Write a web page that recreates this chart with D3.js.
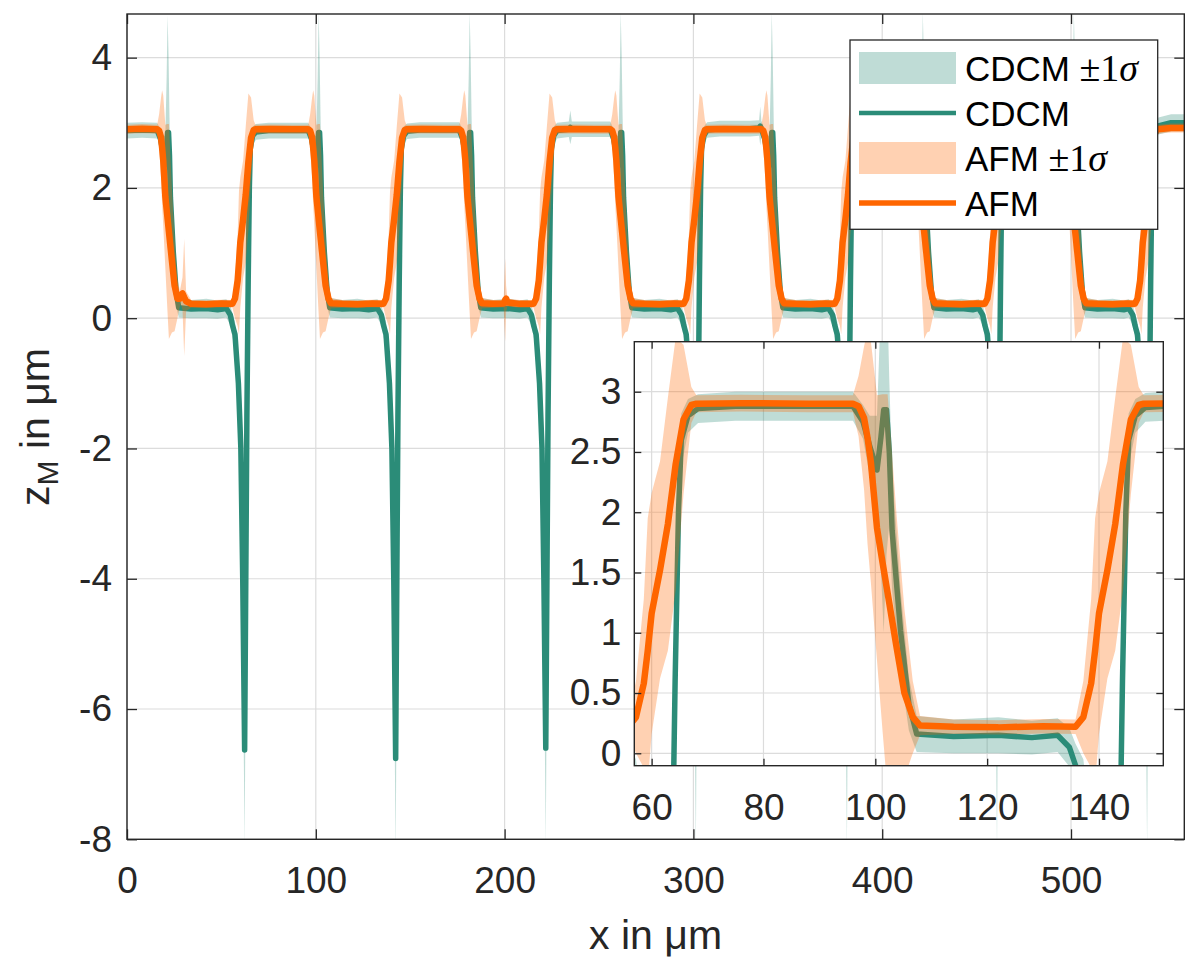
<!DOCTYPE html>
<html>
<head>
<meta charset="utf-8">
<script src="https://cdn.jsdelivr.net/npm/d3@7"></script>
<style>
  body { margin: 0; background: #fff; }
  text { font-family: "Liberation Sans", Arial, sans-serif; }
</style>
</head>
<body>
<script>
// CDCM profile: x in um, mean height, 1 sigma
const xCdcm = [
  0, 8,
  16, 17.8, 19, 20.3, 21, 21.5, 22, 22.5, 23, 24.5, 26, 27.4, 34, 42, 48,
  52.6, 54.7, 55.8, 57.2, 59, 60.3, 61.3, 62.3, 62.8, 63.5, 64.2, 64.8, 65.3, 66.5, 68.3, 75, 85,
  96, 97.8, 99, 100.3, 101, 101.5, 102, 102.5, 103, 104.5, 106, 107.4, 114, 122, 128,
  132.6, 134.7, 135.8, 137.2, 139, 140.3, 141.3, 142.3, 142.8, 143.5, 144.2, 144.8, 145.3, 146.5, 148.3, 155, 165,
  176, 177.8, 179, 180.3, 181, 181.5, 182, 182.5, 183, 184.5, 186, 187.4, 194, 202, 208,
  212.1, 214.2, 215.3, 216.7, 218.5, 219.8, 220.8, 221.8, 222.3, 223, 223.7, 224.3, 224.8, 226, 227.8, 234, 234.8, 235.6, 244.5,
  256, 257.8, 259, 260.3, 261, 261.5, 262, 262.5, 263, 264.5, 266, 267.4, 274, 282, 288,
  291.6, 293.7, 294.8, 296.2, 298, 299.3, 300.3, 301.3, 301.8, 302.5, 303.2, 303.8, 304.3, 305.5, 307.3, 314, 330, 334.8, 335.4,
  336, 337.8, 339, 340.3, 341, 341.5, 342, 342.5, 343, 344.5, 346, 347.4, 354, 362, 368,
  371.6, 373.7, 374.8, 376.2, 378, 379.3, 380.3, 381.3, 381.8, 382.5, 383.2, 383.8, 384.3, 385.5, 387.3, 394, 404,
  416, 417.8, 419, 420.3, 421, 421.5, 422, 422.5, 423, 424.5, 426, 427.4, 434, 442, 448,
  451.1, 453.2, 454.3, 455.7, 457.5, 458.8, 459.8, 460.8, 461.3, 462, 462.7, 463.3, 463.8, 465, 466.8, 473.5, 483.5,
  496, 497.8, 499, 500.3, 501, 501.5, 502, 502.5, 503, 504.5, 506, 507.4, 514, 522, 528,
  530.6, 532.7, 533.8, 535.2, 537, 538.3, 539.3, 540.3, 540.8, 541.5, 542.2, 542.8, 543.3, 544.5, 546.3, 553, 560
];
const zCdcm = [
  2.88, 2.89,
  2.88, 2.75, 2.55, 2.35, 2.62, 2.85, 2.85, 2.5, 1.85, 1.02, 0.41, 0.16, 0.14, 0.15, 0.13,
  0.15, 0.05, -0.1, -0.25, -1, -2, -4, -6.63, -4.5, -1.5, 0.6, 2, 2.6, 2.8, 2.86, 2.88, 2.88,
  2.88, 2.75, 2.55, 2.35, 2.62, 2.85, 2.85, 2.5, 1.85, 1.02, 0.41, 0.16, 0.14, 0.15, 0.13,
  0.15, 0.05, -0.1, -0.25, -1, -2, -4, -6.76, -4.5, -1.5, 0.6, 2, 2.6, 2.8, 2.87, 2.89, 2.89,
  2.89, 2.75, 2.55, 2.35, 2.62, 2.85, 2.85, 2.5, 1.85, 1.02, 0.41, 0.16, 0.14, 0.15, 0.13,
  0.15, 0.05, -0.1, -0.25, -1, -2, -4, -6.6, -4.5, -1.5, 0.6, 2, 2.6, 2.8, 2.88, 2.9, 2.93, 2.9, 2.9,
  2.9, 2.75, 2.55, 2.35, 2.62, 2.85, 2.85, 2.5, 1.85, 1.02, 0.41, 0.16, 0.14, 0.15, 0.13,
  0.15, 0.05, -0.1, -0.25, -1, -2, -4, -6.65, -4.5, -1.5, 0.6, 2, 2.6, 2.8, 2.89, 2.91, 2.91, 2.92, 2.95,
  2.91, 2.75, 2.55, 2.35, 2.62, 2.85, 2.85, 2.5, 1.85, 1.02, 0.41, 0.16, 0.14, 0.15, 0.13,
  0.15, 0.05, -0.1, -0.25, -1, -2, -4, -6.65, -4.5, -1.5, 0.6, 2, 2.6, 2.8, 2.91, 2.93, 2.93,
  2.93, 2.75, 2.55, 2.35, 2.62, 2.85, 2.85, 2.5, 1.85, 1.02, 0.41, 0.16, 0.14, 0.15, 0.13,
  0.15, 0.05, -0.1, -0.25, -1, -2, -4, -6.65, -4.5, -1.5, 0.6, 2, 2.6, 2.8, 2.94, 2.96, 2.96,
  2.96, 2.75, 2.55, 2.35, 2.62, 2.85, 2.85, 2.5, 1.85, 1.02, 0.41, 0.16, 0.14, 0.15, 0.13,
  0.15, 0.05, -0.1, -0.25, -1, -2, -4, -6.65, -4.5, -1.5, 0.6, 2, 2.6, 2.82, 2.95, 3, 3
];
const sdCdcm = [
  0.12, 0.12,
  0.12, 0.14, 0.25, 0.45, 1.1, 1.8, 1.2, 0.6, 0.5, 0.35, 0.22, 0.15, 0.14, 0.15, 0.14,
  0.14, 0.16, 0.18, 0.2, 0.3, 0.5, 0.9, 1.5, 1.3, 0.7, 0.35, 0.3, 0.22, 0.14, 0.12, 0.12, 0.12,
  0.12, 0.14, 0.25, 0.45, 1.1, 1.85, 1.2, 0.6, 0.5, 0.35, 0.22, 0.15, 0.14, 0.15, 0.14,
  0.14, 0.16, 0.18, 0.2, 0.3, 0.5, 0.9, 1.5, 1.3, 0.7, 0.35, 0.3, 0.22, 0.14, 0.12, 0.12, 0.12,
  0.12, 0.14, 0.25, 0.45, 1.1, 1.85, 1.2, 0.6, 0.5, 0.35, 0.22, 0.15, 0.14, 0.15, 0.14,
  0.14, 0.16, 0.18, 0.2, 0.3, 0.5, 0.9, 1.5, 1.3, 0.7, 0.35, 0.3, 0.22, 0.14, 0.12, 0.12, 0.26, 0.12, 0.12,
  0.12, 0.14, 0.25, 0.45, 1.1, 1.85, 1.2, 0.6, 0.5, 0.35, 0.22, 0.15, 0.14, 0.15, 0.14,
  0.14, 0.16, 0.18, 0.2, 0.3, 0.5, 0.9, 1.5, 1.3, 0.7, 0.35, 0.3, 0.22, 0.14, 0.12, 0.12, 0.12, 0.12, 0.3,
  0.12, 0.14, 0.25, 0.45, 1.1, 1.85, 1.2, 0.6, 0.5, 0.35, 0.22, 0.15, 0.14, 0.15, 0.14,
  0.14, 0.16, 0.18, 0.2, 0.3, 0.5, 0.9, 1.5, 1.3, 0.7, 0.35, 0.3, 0.22, 0.14, 0.12, 0.12, 0.12,
  0.12, 0.14, 0.25, 0.45, 1.1, 1.85, 1.2, 0.6, 0.5, 0.35, 0.22, 0.15, 0.14, 0.15, 0.14,
  0.14, 0.16, 0.18, 0.2, 0.3, 0.5, 0.9, 1.5, 1.3, 0.7, 0.35, 0.3, 0.22, 0.14, 0.12, 0.12, 0.12,
  0.12, 0.14, 0.25, 0.45, 1.1, 1.85, 1.2, 0.6, 0.5, 0.35, 0.22, 0.15, 0.14, 0.15, 0.14,
  0.14, 0.16, 0.18, 0.2, 0.3, 0.5, 0.9, 1.5, 1.3, 0.7, 0.35, 0.3, 0.22, 0.14, 0.13, 0.13, 0.13
];

// AFM profile: x in um, mean height, 1 sigma
const xAfm = [
  0, 8,
  16, 17, 18, 18.6, 19.2, 20.3, 21.3, 22.2, 23.8, 25.2, 26.7, 28,
  28.6, 29.4, 30.3, 31.3, 34, 42, 50,
  55.8, 57.2, 58.6, 59.3, 60, 61.5, 62.9, 64.3, 65.7, 67.1, 68, 76, 88,
  96, 97, 98, 98.6, 99.2, 100.3, 101.3, 102.2, 103.8, 105.2, 106.7, 108,
  114, 122, 130,
  135.8, 137.2, 138.6, 139.3, 140, 141.5, 142.9, 144.3, 145.7, 147.1, 148, 156, 168,
  176, 177, 178, 178.6, 179.2, 180.3, 181.3, 182.2, 183.8, 185.2, 186.7, 188,
  194, 199.5, 200.3, 200.8, 201.5, 208,
  215.3, 216.7, 218.1, 218.8, 219.5, 221, 222.4, 223.8, 225.2, 226.6, 227.5, 236, 248,
  256, 257, 258, 258.6, 259.2, 260.3, 261.3, 262.2, 263.8, 265.2, 266.7, 268,
  274, 282, 290,
  294.8, 296.2, 297.6, 298.3, 299, 300.5, 301.9, 303.3, 304.7, 306.1, 307, 316, 328,
  336, 337, 338, 338.6, 339.2, 340.3, 341.3, 342.2, 343.8, 345.2, 346.7, 348,
  354, 362, 370,
  374.8, 376.2, 377.6, 378.3, 379, 380.5, 381.9, 383.3, 384.7, 386.1, 387, 396, 408,
  416, 417, 418, 418.6, 419.2, 420.3, 421.3, 422.2, 423.8, 425.2, 426.7, 428,
  434, 442, 450,
  454.3, 455.7, 457.1, 457.8, 458.5, 460, 461.4, 462.8, 464.2, 465.6, 466.5, 476, 488,
  496, 497, 498, 498.6, 499.2, 500.3, 501.3, 502.2, 503.8, 505.2, 506.7, 508,
  514, 522, 530,
  533.8, 535.2, 536.6, 537.3, 538, 539.5, 540.9, 542.3, 543.7, 545.1, 546, 553, 560
];
const zAfm = [
  2.9, 2.91,
  2.9, 2.88, 2.78, 2.62, 2.42, 1.87, 1.58, 1.33, 0.88, 0.5, 0.3, 0.3,
  0.36, 0.38, 0.32, 0.26, 0.22, 0.215, 0.225,
  0.22, 0.3, 0.58, 0.85, 1.16, 1.52, 1.9, 2.4, 2.77, 2.89, 2.9, 2.905, 2.9,
  2.9, 2.88, 2.78, 2.62, 2.42, 1.87, 1.58, 1.33, 0.88, 0.5, 0.3, 0.23,
  0.22, 0.215, 0.225,
  0.22, 0.3, 0.58, 0.85, 1.16, 1.52, 1.9, 2.4, 2.77, 2.89, 2.9, 2.905, 2.9,
  2.9, 2.88, 2.78, 2.62, 2.42, 1.87, 1.58, 1.33, 0.88, 0.5, 0.3, 0.23,
  0.22, 0.225, 0.28, 0.3, 0.24, 0.22,
  0.22, 0.3, 0.58, 0.85, 1.16, 1.52, 1.9, 2.4, 2.77, 2.89, 2.9, 2.905, 2.9,
  2.9, 2.88, 2.78, 2.62, 2.42, 1.87, 1.58, 1.33, 0.88, 0.5, 0.3, 0.23,
  0.22, 0.215, 0.225,
  0.22, 0.3, 0.58, 0.85, 1.16, 1.52, 1.9, 2.4, 2.77, 2.89, 2.9, 2.905, 2.9,
  2.9, 2.88, 2.78, 2.62, 2.42, 1.87, 1.58, 1.33, 0.88, 0.5, 0.3, 0.23,
  0.22, 0.215, 0.225,
  0.22, 0.3, 0.58, 0.85, 1.16, 1.52, 1.9, 2.4, 2.77, 2.89, 2.9, 2.905, 2.9,
  2.9, 2.88, 2.78, 2.62, 2.42, 1.87, 1.58, 1.33, 0.88, 0.5, 0.3, 0.23,
  0.22, 0.215, 0.225,
  0.22, 0.3, 0.58, 0.85, 1.16, 1.52, 1.9, 2.4, 2.77, 2.89, 2.9, 2.91, 2.91,
  2.91, 2.88, 2.78, 2.62, 2.42, 1.87, 1.58, 1.33, 0.88, 0.5, 0.3, 0.23,
  0.22, 0.215, 0.225,
  0.22, 0.3, 0.58, 0.85, 1.16, 1.52, 1.9, 2.4, 2.77, 2.89, 2.9, 2.92, 2.92
];
const sdAfm = [
  0.07, 0.07,
  0.07, 0.25, 0.6, 0.88, 1, 1.1, 1.4, 1.65, 1.1, 0.7, 0.3, 0.12,
  0.15, 0.25, 0.9, 0.15, 0.06, 0.06, 0.06,
  0.06, 0.3, 0.7, 1.1, 1, 0.9, 1.05, 1.05, 0.62, 0.15, 0.07, 0.07, 0.07,
  0.07, 0.25, 0.6, 0.88, 1, 1.1, 1.4, 1.65, 1.1, 0.7, 0.3, 0.08,
  0.06, 0.06, 0.06,
  0.06, 0.3, 0.7, 1.1, 1, 0.9, 1.05, 1.05, 0.62, 0.15, 0.07, 0.07, 0.07,
  0.07, 0.25, 0.6, 0.88, 1, 1.1, 1.4, 1.65, 1.1, 0.7, 0.3, 0.08,
  0.06, 0.06, 0.64, 0.2, 0.06, 0.06,
  0.06, 0.3, 0.7, 1.1, 1, 0.9, 1.05, 1.05, 0.62, 0.15, 0.07, 0.07, 0.07,
  0.07, 0.25, 0.6, 0.88, 1, 1.1, 1.4, 1.65, 1.1, 0.7, 0.3, 0.08,
  0.06, 0.06, 0.06,
  0.06, 0.3, 0.7, 1.1, 1, 0.9, 1.05, 1.05, 0.62, 0.15, 0.07, 0.07, 0.07,
  0.07, 0.25, 0.6, 0.88, 1, 1.1, 1.4, 1.65, 1.1, 0.7, 0.3, 0.08,
  0.06, 0.06, 0.06,
  0.06, 0.3, 0.7, 1.1, 1, 0.9, 1.05, 1.05, 0.62, 0.15, 0.07, 0.07, 0.07,
  0.07, 0.25, 0.6, 0.88, 1, 1.1, 1.4, 1.65, 1.1, 0.7, 0.3, 0.08,
  0.06, 0.06, 0.06,
  0.06, 0.3, 0.7, 1.1, 1, 0.9, 1.05, 1.05, 0.62, 0.15, 0.07, 0.07, 0.07,
  0.07, 0.25, 0.6, 0.88, 1, 1.1, 1.4, 1.65, 1.1, 0.7, 0.3, 0.08,
  0.06, 0.06, 0.06,
  0.06, 0.3, 0.7, 1.1, 1, 0.9, 1.05, 1.05, 0.62, 0.15, 0.07, 0.07, 0.07
];

// Axis ticks and labels
const mainXTicks = [0, 100, 200, 300, 400, 500];
const mainYTicks = [-8, -6, -4, -2, 0, 2, 4];
const insetXTicks = [60, 80, 100, 120, 140];
const insetYTicks = [0, 0.5, 1, 1.5, 2, 2.5, 3];
const legendLabels = ["CDCM ±1σ", "CDCM", "AFM ±1σ", "AFM"];

if (xCdcm.length !== zCdcm.length || xCdcm.length !== sdCdcm.length ||
    xAfm.length !== zAfm.length || xAfm.length !== sdAfm.length) {
  throw new Error("length mismatch " + [xCdcm.length, zCdcm.length, sdCdcm.length, xAfm.length, zAfm.length, sdAfm.length]);
}

let cdcm = xCdcm.map((x, i) => ({ x: x, z: zCdcm[i], sd: sdCdcm[i] }));
let afm = xAfm.map((x, i) => ({ x: x, z: zAfm[i], sd: sdAfm[i] }));

let width = 1200;
let height = 966;
let teal = "rgb(43,140,120)";
let orange = "#ff6600";
let ink = "#262626";
let tealWidth = 5.5;
let orangeWidth = 6.5;

let svg = d3
  .select("body")
  .append("svg")
  .attr("width", width)
  .attr("height", height)
  .style("background", "#fff");

let defs = svg.append("defs");

// Draw one set of axes (used for main plot and for inset)
function drawPanel(opt) {
  let box = opt.box;
  let g = svg.append("g");

  let x = d3.scaleLinear().domain(opt.xDomain).range([box.left, box.right]);
  let y = d3.scaleLinear().domain(opt.yDomain).range([box.bottom, box.top]);

  g.append("rect")
    .attr("x", box.left)
    .attr("y", box.top)
    .attr("width", box.right - box.left)
    .attr("height", box.bottom - box.top)
    .attr("fill", "#fff");

  // grid
  g.append("g")
    .selectAll("line")
    .data(opt.xTicks)
    .join("line")
    .attr("x1", (d) => x(d))
    .attr("x2", (d) => x(d))
    .attr("y1", box.top)
    .attr("y2", box.bottom)
    .attr("stroke", "#dcdcdc")
    .attr("stroke-width", 1.2);
  g.append("g")
    .selectAll("line")
    .data(opt.yTicks)
    .join("line")
    .attr("x1", box.left)
    .attr("x2", box.right)
    .attr("y1", (d) => y(d))
    .attr("y2", (d) => y(d))
    .attr("stroke", "#dcdcdc")
    .attr("stroke-width", 1.2);

  defs.append("clipPath")
    .attr("id", opt.id)
    .append("rect")
    .attr("x", box.left)
    .attr("y", box.top)
    .attr("width", box.right - box.left)
    .attr("height", box.bottom - box.top);

  let plot = g.append("g").attr("clip-path", `url(#${opt.id})`);

  let area = d3.area()
    .x((d) => x(d.x))
    .y0((d) => y(d.z - d.sd))
    .y1((d) => y(d.z + d.sd));
  let line = d3.line()
    .x((d) => x(d.x))
    .y((d) => y(d.z));

  plot.append("path").datum(cdcm).attr("d", area)
    .attr("fill", teal).attr("fill-opacity", 0.3);
  plot.append("path").datum(cdcm).attr("d", line)
    .attr("fill", "none").attr("stroke", teal)
    .attr("stroke-width", tealWidth).attr("stroke-linejoin", "round");
  plot.append("path").datum(afm).attr("d", area)
    .attr("fill", orange).attr("fill-opacity", 0.3);
  plot.append("path").datum(afm).attr("d", line)
    .attr("fill", "none").attr("stroke", orange)
    .attr("stroke-width", orangeWidth).attr("stroke-linejoin", "round");

  // axes, ticks point inward on all four sides
  let fmt = (d) => String(d);
  let axes = [
    [d3.axisBottom(x).tickValues(opt.xTicks).tickFormat(fmt).tickPadding(opt.xPad), `translate(0,${box.bottom})`],
    [d3.axisTop(x).tickValues(opt.xTicks).tickFormat(""), `translate(0,${box.top})`],
    [d3.axisLeft(y).tickValues(opt.yTicks).tickFormat(fmt).tickPadding(opt.yPad), `translate(${box.left},0)`],
    [d3.axisRight(y).tickValues(opt.yTicks).tickFormat(""), `translate(${box.right},0)`],
  ];
  axes.forEach(([axis, tr]) => {
    let a = g.append("g")
      .attr("transform", tr)
      .call(axis.tickSizeInner(-opt.tickLen).tickSizeOuter(0));
    a.select(".domain").remove();
    a.selectAll("line").attr("stroke", ink).attr("stroke-width", 1.3);
    a.selectAll("text")
      .attr("fill", ink)
      .style("font-size", opt.fontSize + "px")
      .style("font-family", '"Liberation Sans", Arial, sans-serif');
  });

  g.append("rect")
    .attr("x", box.left)
    .attr("y", box.top)
    .attr("width", box.right - box.left)
    .attr("height", box.bottom - box.top)
    .attr("fill", "none")
    .attr("stroke", ink)
    .attr("stroke-width", 1.4);

  return g;
}

// Main axes
drawPanel({
  id: "clip-main",
  box: { left: 127, right: 1184.3, top: 14, bottom: 839.3 },
  xDomain: [0, 560],
  yDomain: [-8, 4.67],
  xTicks: mainXTicks,
  yTicks: mainYTicks,
  tickLen: 10,
  xPad: 27,
  yPad: 15,
  fontSize: 37,
});

// Axis labels
svg.append("text")
  .attr("x", 655.6)
  .attr("y", 949)
  .attr("text-anchor", "middle")
  .attr("fill", ink)
  .style("font-size", "41px")
  .text("x in μm");

let yLabel = svg.append("text")
  .attr("transform", "translate(49,427) rotate(-90)")
  .attr("text-anchor", "middle")
  .attr("fill", ink)
  .style("font-size", "41px");
yLabel.append("tspan").text("z");
yLabel.append("tspan").attr("dy", 9).style("font-size", "30px").text("M");
yLabel.append("tspan").attr("dy", -9).text(" in μm");

// Legend
let lg = svg.append("g");
lg.append("rect")
  .attr("x", 850)
  .attr("y", 40)
  .attr("width", 307.7)
  .attr("height", 189.3)
  .attr("fill", "#fff")
  .attr("stroke", ink)
  .attr("stroke-width", 1.3);

let rowY = d3.scaleLinear().domain([0, 3]).range([68, 203]);
legendLabels.forEach((label, i) => {
  let cy = rowY(i);
  let color = label.startsWith("CDCM") ? teal : orange;
  if (label.includes("±")) {
    lg.append("rect")
      .attr("x", 859)
      .attr("y", cy - 16)
      .attr("width", 97)
      .attr("height", 32)
      .attr("fill", color)
      .attr("fill-opacity", 0.3);
  } else {
    lg.append("line")
      .attr("x1", 859)
      .attr("x2", 956)
      .attr("y1", cy)
      .attr("y2", cy)
      .attr("stroke", color)
      .attr("stroke-width", color === teal ? 4.5 : 5.5);
  }
  let t = lg.append("text")
    .attr("x", 965)
    .attr("y", cy + 12.5)
    .attr("fill", "#000")
    .style("font-size", "35px");
  let parts = label.split(" ±1σ");
  t.append("tspan").text(parts[0]);
  if (label.includes("±")) {
    t.append("tspan")
      .style("font-family", '"Liberation Serif", serif')
      .style("font-size", "38px")
      .text(" ±1");
    t.append("tspan")
      .style("font-family", '"Liberation Serif", serif')
      .style("font-style", "italic")
      .style("font-size", "38px")
      .text("σ");
  }
});

// Inset zoom
drawPanel({
  id: "clip-inset",
  box: { left: 634.3, right: 1163.3, top: 341.7, bottom: 765.7 },
  xDomain: [56.9, 151.5],
  yDomain: [-0.103, 3.415],
  xTicks: insetXTicks,
  yTicks: insetYTicks,
  tickLen: 7,
  xPad: 28,
  yPad: 13,
  fontSize: 37,
});
</script>
</body>
</html>
